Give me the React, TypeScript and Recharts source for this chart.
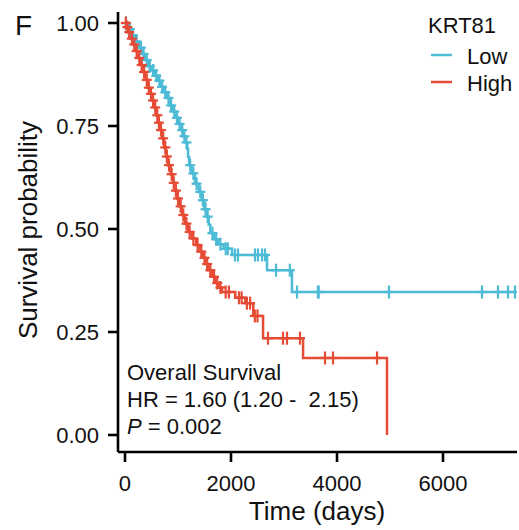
import React from "react";
import { ComposedChart, Line, Scatter, XAxis, YAxis } from "recharts";

// KRT81 overall survival, Kaplan-Meier curves
const groups = ["Low", "High"];
const groupColors = ["#4DBBD5", "#E64B35"];

const lowTimes = [0, 60, 130, 190, 260, 330, 380, 440, 500, 560, 620, 680, 730, 790, 850, 900, 960, 1010, 1060, 1100, 1140, 1175, 1190, 1210, 1260, 1320, 1390, 1450, 1500, 1540, 1580, 1610, 1680, 1760, 1860, 2020, 2680, 3150];
const lowSurv = [1.0, 0.985, 0.97, 0.955, 0.94, 0.925, 0.91, 0.895, 0.885, 0.872, 0.86, 0.845, 0.832, 0.818, 0.8, 0.785, 0.77, 0.755, 0.74, 0.725, 0.71, 0.695, 0.675, 0.655, 0.635, 0.61, 0.59, 0.57, 0.548, 0.53, 0.51, 0.49, 0.475, 0.463, 0.452, 0.437, 0.4, 0.347];
const lowCensor = [20, 90, 150, 220, 300, 350, 410, 470, 530, 590, 650, 700, 760, 820, 870, 930, 980, 1030, 1080, 1120, 1160, 1230, 1290, 1350, 1420, 1470, 1520, 1560, 1650, 1720, 1800, 1900, 1940, 2075, 2132, 2453, 2509, 2585, 2642, 2850, 3110, 3245, 3640, 3655, 4980, 6736, 7038, 7226, 7358];

const highTimes = [0, 30, 60, 110, 150, 200, 245, 290, 340, 390, 430, 470, 510, 550, 590, 625, 660, 700, 740, 775, 810, 860, 905, 945, 985, 1030, 1075, 1130, 1190, 1260, 1340, 1410, 1470, 1520, 1570, 1640, 1700, 1770, 1830, 2080, 2270, 2420, 2605, 3360, 4943];
const highSurv = [1.0, 0.99, 0.978, 0.962, 0.948, 0.932, 0.915, 0.898, 0.881, 0.862, 0.843, 0.828, 0.812, 0.795, 0.776, 0.758, 0.74, 0.72, 0.698, 0.676, 0.655, 0.633, 0.612, 0.593, 0.574, 0.555, 0.534, 0.513, 0.493, 0.477, 0.461, 0.445, 0.43, 0.415, 0.4, 0.384, 0.369, 0.358, 0.347, 0.333, 0.32, 0.289, 0.235, 0.187, 0];
const highCensor = [15, 45, 80, 130, 175, 220, 270, 315, 360, 410, 450, 490, 530, 570, 610, 640, 680, 720, 760, 790, 830, 880, 920, 960, 1000, 1050, 1100, 1160, 1220, 1290, 1370, 1440, 1500, 1550, 1610, 1680, 1740, 1800, 1900, 1960, 2150, 2200, 2300, 2360, 2450, 2500, 2698, 2981, 3057, 3302, 3774, 3925, 4755];

const xTicks = [0, 2000, 4000, 6000];
const yTicks = [0, 0.25, 0.5, 0.75, 1];

const FONT = "'Liberation Sans', Arial, Helvetica, sans-serif";

function survAt(times: number[], surv: number[], t: number) {
  let v = surv[0];
  for (let i = 0; i < times.length; i++) {
    if (times[i] <= t) v = surv[i];
  }
  return v;
}

function curve(times: number[], surv: number[], censor: number[]) {
  const pts = times.map((t, i) => ({ t, v: surv[i] }));
  const lastC = censor[censor.length - 1];
  if (lastC > times[times.length - 1]) pts.push({ t: lastC, v: surv[surv.length - 1] });
  return pts;
}

function marks(times: number[], surv: number[], censor: number[]) {
  return censor.map((t) => ({ t, v: survAt(times, surv, t) }));
}

const lowLine = curve(lowTimes, lowSurv, lowCensor);
const highLine = curve(highTimes, highSurv, highCensor);
const lowMarks = marks(lowTimes, lowSurv, lowCensor);
const highMarks = marks(highTimes, highSurv, highCensor);

const plusShape = (color: string) => (props: any) => {
  const { cx, cy } = props;
  return (
    <g stroke={color} strokeWidth={2.2}>
      <line x1={cx - 5} x2={cx + 5} y1={cy} y2={cy} />
      <line x1={cx} x2={cx} y1={cy - 6.5} y2={cy + 6.5} />
    </g>
  );
};

export default function App() {
  return (
    <div style={{ position: "absolute", left: 0, top: 0, width: 519, height: 530, background: "#fff" }}>
      <ComposedChart width={519} height={530} margin={{ top: 12, right: 2, left: 0, bottom: 0 }}>
        <XAxis
          type="number"
          dataKey="t"
          domain={[-132, 7396]}
          allowDataOverflow
          ticks={xTicks}
          height={78}
          tickSize={10}
          tickMargin={13}
          axisLine={{ stroke: "#000", strokeWidth: 2.6 }}
          tickLine={{ stroke: "#000", strokeWidth: 2.6 }}
          tick={{ fontSize: 22, fill: "#111", fontFamily: FONT }}
        />
        <YAxis
          type="number"
          dataKey="v"
          domain={[-0.0413, 1.0267]}
          allowDataOverflow
          ticks={yTicks}
          width={118}
          tickSize={10}
          tickMargin={9}
          tickFormatter={(v: number) => v.toFixed(2)}
          axisLine={{ stroke: "#000", strokeWidth: 2.6 }}
          tickLine={{ stroke: "#000", strokeWidth: 2.6 }}
          tick={{ fontSize: 22, fill: "#111", fontFamily: FONT }}
        />
        <Line data={lowLine} dataKey="v" type="stepAfter" stroke={groupColors[0]} strokeWidth={2.5} dot={false} activeDot={false} isAnimationActive={false} />
        <Scatter data={lowMarks} dataKey="v" shape={plusShape(groupColors[0])} isAnimationActive={false} />
        <Line data={highLine} dataKey="v" type="stepAfter" stroke={groupColors[1]} strokeWidth={2.5} dot={false} activeDot={false} isAnimationActive={false} />
        <Scatter data={highMarks} dataKey="v" shape={plusShape(groupColors[1])} isAnimationActive={false} />
      </ComposedChart>
      <svg width={519} height={530} style={{ position: "absolute", left: 0, top: 0, pointerEvents: "none" }} fontFamily={FONT}>
        <text x={15} y={35} fontSize={28} fill="#111">F</text>
        <text transform="translate(36.5,230) rotate(-90)" textAnchor="middle" fontSize={26} fill="#111">Survival probability</text>
        <text x={317} y={520} textAnchor="middle" fontSize={26} fill="#111">Time (days)</text>
        <text x={428} y={33} fontSize={22} fill="#111">KRT81</text>
        {groups.map((g, i) => (
          <g key={g}>
            <line x1={431} x2={452} y1={55 + i * 27} y2={55 + i * 27} stroke={groupColors[i]} strokeWidth={2.5} />
            <text x={467} y={64 + i * 27} fontSize={22} fill="#111">{g}</text>
          </g>
        ))}
        <g fontSize={22} fill="#111">
          <text x={127} y={380}>Overall Survival</text>
          <text x={127} y={407} style={{ whiteSpace: "pre" }}>HR = 1.60 (1.20 -  2.15)</text>
          <text x={127} y={434}>
            <tspan fontStyle="italic">P</tspan> = 0.002
          </text>
        </g>
      </svg>
    </div>
  );
}
